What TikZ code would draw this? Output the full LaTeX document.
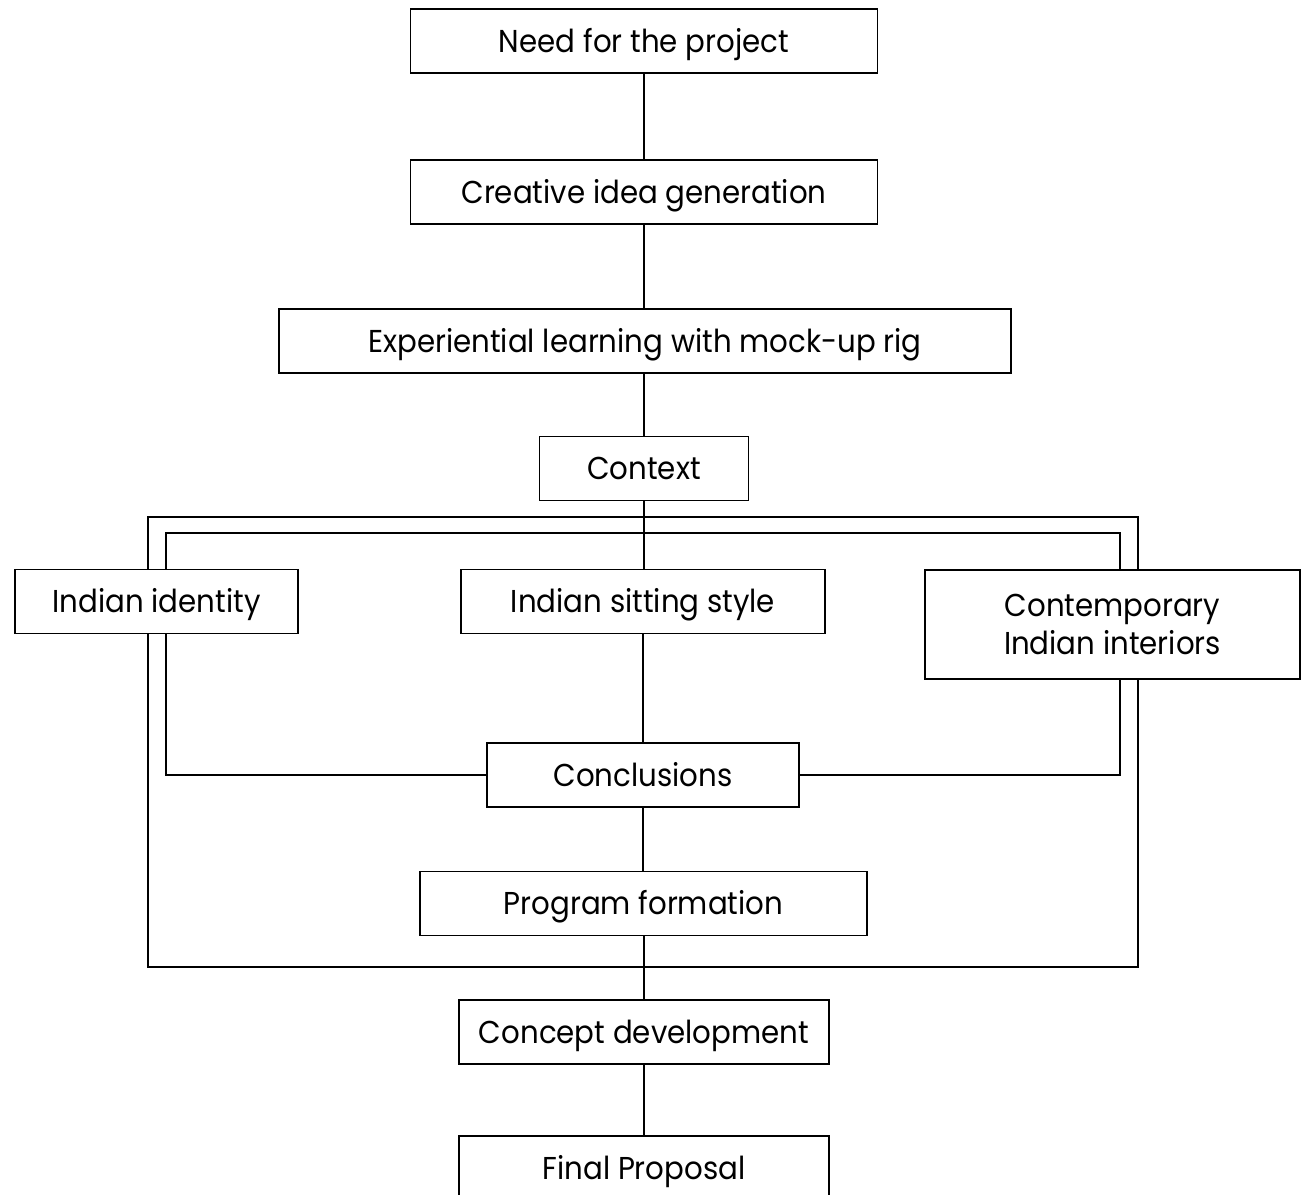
\documentclass[tikz,border=0pt]{standalone}
\usepackage{fontspec}
\setmainfont{Poppins}[FakeStretch=0.925]
\usetikzlibrary{backgrounds}

\tikzset{
  box/.style={draw, fill=white, line width=0.4pt, inner sep=0pt, align=center,
    minimum height=0.64cm, text height=6.3pt, text depth=0pt,
    font=\fontsize{9}{10.8}\selectfont},
  link/.style={line width=0.4pt},
}

\begin{document}
\begin{tikzpicture}
  \useasboundingbox (0,0) rectangle (13.07,-11.95);

  % main column
  \node[box, minimum width=4.67cm] (need)    at (6.44, -0.41)  {Need for the project};
  \node[box, minimum width=4.67cm] (idea)    at (6.44, -1.92)  {Creative idea generation};
  \node[box, minimum width=7.32cm] (exp)     at (6.45, -3.41)  {Experiential learning with mock-up rig};
  \node[box, minimum width=2.09cm] (context) at (6.44, -4.685) {Context};

  % context branches
  \node[box, minimum width=2.83cm] (identity) at (1.565, -6.015) {Indian identity};
  \node[box, minimum width=3.64cm] (sitting)  at (6.43, -6.015)  {Indian sitting style};
  \node[box, minimum width=3.75cm, minimum height=1.09cm, text height=, text depth=]
    (interiors) at (11.125, -6.245) {Contemporary\\Indian interiors};

  \node[box, minimum width=3.12cm] (concl)   at (6.43, -7.75)   {Conclusions};
  \node[box, minimum width=4.47cm] (program) at (6.435, -9.035) {Program formation};
  \node[box, minimum width=3.70cm] (concept) at (6.44, -10.32)  {Concept development};
  \node[box, minimum width=3.70cm] (final)   at (6.44, -11.68)  {Final Proposal};

  \coordinate (innerNW) at (1.66, -5.33);
  \coordinate (innerNE) at (11.20, -5.33);

  \begin{scope}[on background layer]
    \draw[link] (1.48, -5.17) rectangle (11.38, -9.67);
    \draw[link] (concl.west) -| (innerNW) -- (innerNE) |- (concl.east);

    \draw[link] (need.south) -- (need.south |- idea.north);
    \draw[link] (idea.south) -- (idea.south |- exp.north);
    \draw[link] (exp.south -| context.north) -- (context.north);
    \draw[link] (context.south) -- (context.south |- sitting.north);
    \draw[link] (sitting.south) -- (concl.north);
    \draw[link] (concl.south) -- (concl.south |- program.north);
    \draw[link] (program.south -| concept.north) -- (concept.north);
    \draw[link] (concept.south) -- (final.north);
  \end{scope}
\end{tikzpicture}
\end{document}
